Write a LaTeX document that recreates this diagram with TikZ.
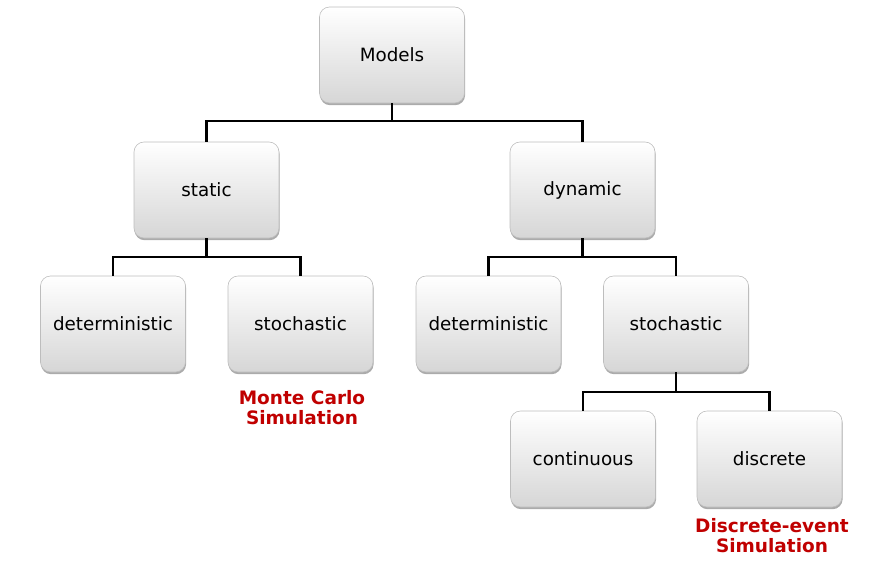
\documentclass[tikz,border=0pt]{standalone}
\usepackage{fontspec}
\setmainfont{DejaVu Sans}
\usetikzlibrary{shadows,calc}
\definecolor{boxline}{HTML}{BDBDBD}
\definecolor{boxbot}{HTML}{D6D6D6}
\definecolor{labred}{HTML}{C00000}
\tikzset{
  box/.style={draw=boxline, line width=0.6pt, rounded corners=10pt,
    top color=white, bottom color=boxbot, minimum width=145pt, minimum height=96pt,
    inner sep=0pt, font=\fontsize{18.3}{21}\selectfont,
    drop shadow={shadow xshift=0.6pt, shadow yshift=-2.2pt, opacity=0.6, fill=black!55}},
  conn/.style={draw=black, line width=2.8pt},
  lab/.style={text=labred, font=\fontsize{18.5}{20}\selectfont\bfseries, align=center, inner sep=0pt}
}
\begin{document}
\begin{tikzpicture}[x=1pt,y=-1pt]
\useasboundingbox (0,0) rectangle (872,573);
\node[box] (models) at (392,55) {Models};
\node[box] (static) at (206.5,190) {static};
\node[box] (dynamic) at (582.5,190) {dynamic};
\node[box] (sdet) at (113,324) {deterministic};
\node[box] (ssto) at (300.5,324) {stochastic};
\node[box] (ddet) at (488.5,324) {deterministic};
\node[box] (dsto) at (676,324) {stochastic};
\node[box] (cont) at (583,459) {continuous};
\node[box] (disc) at (769.5,459) {discrete};
\node[lab] (mc) at (302,408) {Monte Carlo\\Simulation};
\node[lab] (des) at (772,536) {Discrete-event\\Simulation};
\coordinate (j0) at (392,121);
\coordinate (j1) at (206.5,257);
\coordinate (j2) at (582.5,257);
\coordinate (j3) at (676,392);
\draw[conn] (models.south) -- (j0);
\draw[conn] (static.north) |- (j0) -| (dynamic.north);
\draw[conn] (static.south) -- (j1);
\draw[conn] (sdet.north) |- (j1) -| (ssto.north);
\draw[conn] (dynamic.south) -- (j2);
\draw[conn] (ddet.north) |- (j2) -| (dsto.north);
\draw[conn] (dsto.south) -- (j3);
\draw[conn] (cont.north) |- (j3) -| (disc.north);
\end{tikzpicture}
\end{document}
